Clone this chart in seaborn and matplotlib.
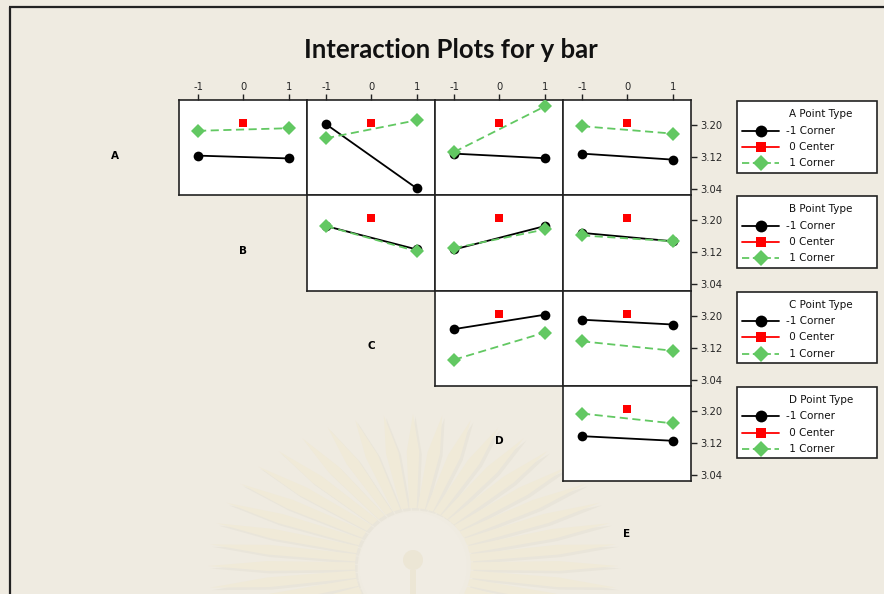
import numpy as np
import pandas as pd
import matplotlib
matplotlib.use("Agg")
import matplotlib.pyplot as plt
from matplotlib.patches import Rectangle, Polygon, Circle
from matplotlib.lines import Line2D
import seaborn as sns

# ---- data -------------------------------------------------------------
factors = ["A", "B", "C", "D", "E"]
levels = [-1, 1]
center_mean = 3.205

# mean y for (row factor level -1) across column factor levels -1, 1
low_line = {
    ("A", "B"): [3.124, 3.117],
    ("A", "C"): [3.2025, 3.042],
    ("A", "D"): [3.129, 3.1175],
    ("A", "E"): [3.129, 3.114],
    ("B", "C"): [3.186, 3.1275],
    ("B", "D"): [3.1275, 3.186],
    ("B", "E"): [3.169, 3.148],
    ("C", "D"): [3.1665, 3.2025],
    ("C", "E"): [3.19, 3.178],
    ("D", "E"): [3.137, 3.1255],
}
# mean y for (row factor level +1) across column factor levels -1, 1
high_line = {
    ("A", "B"): [3.186, 3.1925],
    ("A", "C"): [3.1675, 3.2125],
    ("A", "D"): [3.133, 3.247],
    ("A", "E"): [3.1975, 3.179],
    ("B", "C"): [3.186, 3.123],
    ("B", "D"): [3.131, 3.1775],
    ("B", "E"): [3.1625, 3.148],
    ("C", "D"): [3.09, 3.158],
    ("C", "E"): [3.136, 3.1125],
    ("D", "E"): [3.1935, 3.169],
}

x_ticks = [-1, 0, 1]
y_ticks = [3.04, 3.12, 3.20]
legend_labels = ["-1 Corner", " 0 Center", " 1 Corner"]

# ---- style --------------------------------------------------------------
sns.set_theme(style="white")
plt.rcParams["font.family"] = ["DejaVu Sans"]

BG = "#EFEBE1"
GREEN = "#62C862"
RED = "#FF0000"
W, H = 884, 594

fig = plt.figure(figsize=(W / 100, H / 100), dpi=100, facecolor=BG)

# background layer in pixel coordinates
bg = fig.add_axes([0, 0, 1, 1], zorder=-5)
bg.set_xlim(0, W)
bg.set_ylim(H, 0)
bg.axis("off")

# faint sunburst emblem behind the plots
cx, cy = 413, 566
n_rays = 44
for k in range(n_rays):
    a = np.pi * 2 * k / n_rays
    r0, rx, ry = 58, 205, 152
    half = np.pi / n_rays * 0.6
    tip = (cx + rx * np.cos(a), cy - ry * np.sin(a))
    b1 = (cx + r0 * np.cos(a - half * 1.5), cy - r0 * np.sin(a - half * 1.5))
    b2 = (cx + r0 * np.cos(a + half * 1.5), cy - r0 * np.sin(a + half * 1.5))
    mid_r = 0.6
    m1 = (cx + (r0 + (rx - r0) * mid_r) * np.cos(a - half),
          cy - (r0 + (ry - r0) * mid_r) * np.sin(a - half))
    m2 = (cx + (r0 + (rx - r0) * mid_r) * np.cos(a + half),
          cy - (r0 + (ry - r0) * mid_r) * np.sin(a + half))
    shadow = [(p[0] + 2.5, p[1] + 2.5) for p in (b1, m1, tip, m2, b2)]
    bg.add_patch(Polygon(shadow, closed=True, facecolor="#E9E5DA",
                         edgecolor="none", zorder=1))
    bg.add_patch(Polygon([b1, m1, tip, m2, b2], closed=True,
                         facecolor="#F0EAD8", edgecolor="none", zorder=2))
bg.add_patch(Circle((cx, cy), 54, facecolor="#F0ECE3", edgecolor="none", zorder=3))
bg.add_patch(Circle((cx, cy - 6), 10, facecolor="#ECE6D5", edgecolor="none", zorder=4))
bg.add_patch(Rectangle((cx - 3, cy + 4), 6, 40, facecolor="#ECE6D5",
                       edgecolor="none", zorder=4))

# outer frame
bg.plot([9, W], [7, 7], color="#222222", lw=1.6, zorder=5, solid_capstyle="butt")
bg.plot([9.5, 9.5], [7, H], color="#222222", lw=1.6, zorder=5, solid_capstyle="butt")

# title
fig.text(451 / W, 1 - 50 / H, "Interaction Plots for y bar",
         ha="center", va="center", fontsize=18.5, fontweight="bold",
         family=["Lato", "DejaVu Sans"], color="#111111")

# ---- panels -------------------------------------------------------------
X0, Y0, PW, PH = 179, 100, 128, 95.25
XLIM = (-1.42, 1.40)
YLIM = (3.025, 3.263)

for i, rf in enumerate(factors[:-1]):
    # diagonal factor label
    bg.text(115 + 128 * i, 156 + 95 * i, rf, ha="center", va="center",
            fontsize=7.5, fontweight="bold", color="black", zorder=6)
    for j in range(i + 1, len(factors)):
        cf = factors[j]
        left = X0 + PW * (j - 1)
        top = Y0 + PH * i
        ax = fig.add_axes([left / W, 1 - (top + PH) / H, PW / W, PH / H])
        ax.set_facecolor("white")

        df = pd.DataFrame({
            "x": levels * 2,
            "y": low_line[(rf, cf)] + high_line[(rf, cf)],
            "grp": ["-1"] * 2 + ["1"] * 2,
        })
        sns.lineplot(data=df, x="x", y="y", hue="grp", style="grp",
                     palette={"-1": "black", "1": GREEN},
                     dashes={"-1": "", "1": (4.5, 2.5)},
                     markers={"-1": "o", "1": "D"},
                     hue_order=["-1", "1"], style_order=["-1", "1"],
                     markersize=7, markeredgewidth=0, linewidth=1.3,
                     legend=False, ax=ax, zorder=3)
        cdf = pd.DataFrame({"x": [0], "y": [center_mean]})
        sns.scatterplot(data=cdf, x="x", y="y", marker="s", color=RED,
                        s=36, linewidth=0, legend=False, ax=ax, zorder=4)

        ax.set_xlim(*XLIM)
        ax.set_ylim(*YLIM)
        ax.set_xlabel("")
        ax.set_ylabel("")
        for sp in ax.spines.values():
            sp.set_color("#222222")
            sp.set_linewidth(1.2)

        # top tick labels only on the first row
        if i == 0:
            ax.xaxis.tick_top()
            ax.set_xticks(x_ticks)
            ax.set_xticklabels([str(t) for t in x_ticks])
            ax.tick_params(axis="x", direction="out", length=4, width=1,
                           color="#222222", labelsize=7.2, pad=2)
        else:
            ax.set_xticks([])
        # right tick labels only in the last column
        if j == len(factors) - 1:
            ax.yaxis.tick_right()
            ax.set_yticks(y_ticks)
            ax.set_yticklabels([f"{t:.2f}" for t in y_ticks])
            ax.tick_params(axis="y", direction="out", length=4, width=1,
                           color="#222222", labelsize=7.2, pad=3)
        else:
            ax.set_yticks([])

# last diagonal label
bg.text(115 + 128 * 4, 156 + 95 * 4 - 2, factors[-1], ha="center", va="center",
        fontsize=7.5, fontweight="bold", color="black", zorder=6)

# ---- legends (one per row factor) ------------------------------------
handle_styles = [
    dict(color="black", marker="o", ls="-", ms=8.5),
    dict(color=RED, marker="s", ls="-", ms=7.5),
    dict(color=GREEN, marker="D", ls="--", ms=8),
]
for i, rf in enumerate(factors[:-1]):
    top = 101 + 95.25 * i
    bg.add_patch(Rectangle((737, top), 140, 71.5, facecolor="white",
                           edgecolor="#222222", lw=1.2, zorder=6))
    bg.text(789, top + 13, f"{rf} Point Type", ha="left", va="center",
            fontsize=7.5, color="#111111", zorder=7)
    for k, (lab, st) in enumerate(zip(legend_labels, handle_styles)):
        yy = top + 29.5 + 16.3 * k
        ln = Line2D([742, 779], [yy, yy], color=st["color"], lw=1.3,
                    ls=st["ls"], dashes=(4, 2) if st["ls"] == "--" else (None, None),
                    zorder=7)
        bg.add_line(ln)
        bg.plot([760.5], [yy], marker=st["marker"], color=st["color"],
                ms=st["ms"], mew=0, zorder=8)
        bg.text(786, yy, lab, ha="left", va="center", fontsize=7.5,
                color="#111111", zorder=7)

fig.savefig("out.png", dpi=100, facecolor=BG)
